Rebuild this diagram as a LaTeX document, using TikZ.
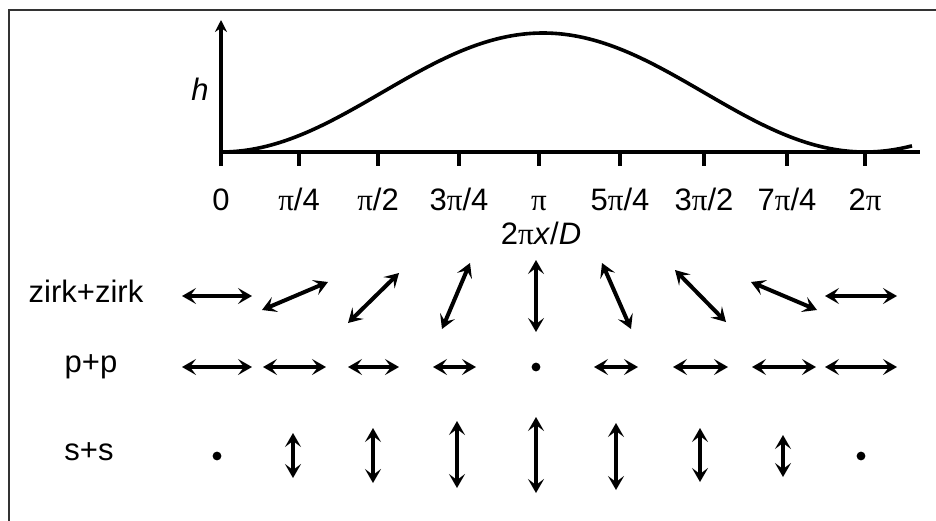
\documentclass[tikz,border=0pt]{standalone}
\usepackage{fontspec}
\setmainfont{Liberation Sans}
\newfontfamily\pifont{Liberation Serif}
\usetikzlibrary{arrows.meta}
\newcommand{\pis}{{\pifont π}}

\begin{document}
\begin{tikzpicture}[x=0.5pt, y=-0.5pt, >={Stealth[length=7pt,width=8pt,inset=3pt]},
    lbl/.style={font=\fontsize{15.5}{18}\selectfont, inner sep=0pt},
    pol/.style={<->, line width=2pt},
    polpt/.style={circle, fill, inner sep=0pt, minimum size=4.4pt}]
    \useasboundingbox (0,0) rectangle (936,520);

    % Draw Frame
    \draw[line width=1pt, black!80] (9,540) -- (9,10) -- (950,10);

    % Draw Axes
    \draw[line width=1.8pt, -{Stealth[length=6pt,width=6pt,inset=2pt]}] (221,166) -- (221,20);
    \draw[line width=1.8pt] (221,152) -- (920,152);
    \draw[line width=1.8pt] (299,152) -- (299,166) (378,152) -- (378,166)
        (459,152) -- (459,166) (539,152) -- (539,166) (620,152) -- (620,166)
        (704,152) -- (704,166) (787,152) -- (787,166) (865,152) -- (865,166);
    \node[lbl, anchor=base, font=\fontsize{15.5}{18}\selectfont\itshape] (h) at (200,100) {h};

    % Draw Surface Profile
    \draw[line width=1.8pt] plot[domain=221:912, samples=120, smooth]
        (\x, {152-59.5*(1-cos((\x-221)/644*360))});

    % Tick Labels
    \node[lbl, anchor=base] (t0) at (221,210) {0};
    \node[lbl, anchor=base] (t1) at (299,210) {\pis/4};
    \node[lbl, anchor=base] (t2) at (378,210) {\pis/2};
    \node[lbl, anchor=base] (t3) at (459,210) {3\pis/4};
    \node[lbl, anchor=base] (t4) at (539,210) {\pis};
    \node[lbl, anchor=base] (t5) at (620,210) {5\pis/4};
    \node[lbl, anchor=base] (t6) at (704,210) {3\pis/2};
    \node[lbl, anchor=base] (t7) at (787,210) {7\pis/4};
    \node[lbl, anchor=base] (t8) at (865,210) {2\pis};
    \node[lbl, anchor=base] (xlab) at (541,244) {2\pis\textit{x}/\textit{D}};

    % Row Labels
    \node[lbl, anchor=mid] (zz) at (86,297) {zirk+zirk};
    \node[lbl, anchor=mid] (pp) at (91,367) {p+p};
    \node[lbl, anchor=mid] (ss) at (89,455) {s+s};

    % Draw zirk+zirk Polarisation
    \draw[pol] (182,296) -- (252,296);
    \draw[pol] (262,310) -- (328,282);
    \draw[pol] (348,323) -- (399,273);
    \draw[pol] (442,329) -- (470,263);
    \draw[pol] (536,260) -- (536,332);
    \draw[pol] (602,263) -- (631,329);
    \draw[pol] (675,270) -- (726,322);
    \draw[pol] (751,282) -- (817,310);
    \draw[pol] (825,296) -- (897,296);

    % Draw p+p Polarisation
    \draw[pol] (182,367) -- (252,367);
    \draw[pol] (263,367) -- (326,367);
    \draw[pol] (348,367) -- (399,367);
    \draw[pol] (433,367) -- (476,367);
    \node[polpt] (pmid) at (536,367) {};
    \draw[pol] (594,367) -- (638,367);
    \draw[pol] (673,367) -- (728,367);
    \draw[pol] (752,367) -- (816,367);
    \draw[pol] (825,367) -- (897,367);

    % Draw s+s Polarisation
    \node[polpt] (sleft) at (217,456) {};
    \draw[pol] (293,433) -- (293,478);
    \draw[pol] (373,428) -- (373,483);
    \draw[pol] (457,421) -- (457,488);
    \draw[pol] (536,417) -- (536,493);
    \draw[pol] (616,423) -- (616,490);
    \draw[pol] (700,428) -- (700,482);
    \draw[pol] (783,435) -- (783,477);
    \node[polpt] (sright) at (861,456) {};
\end{tikzpicture}
\end{document}
